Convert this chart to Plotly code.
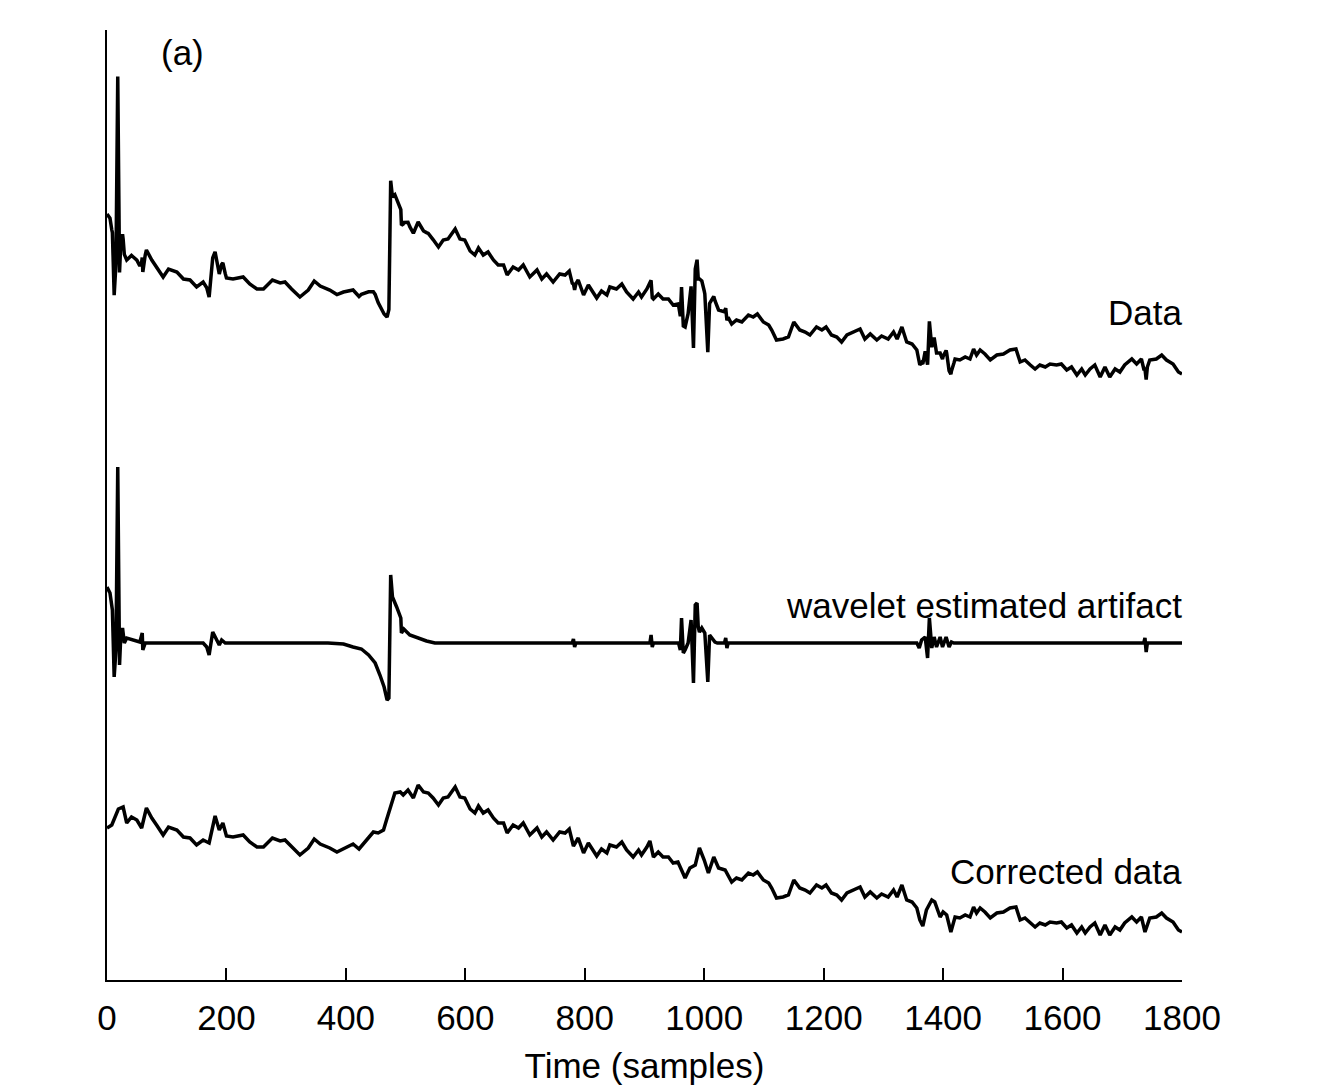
import numpy as np
import plotly.graph_objects as go

# ---- Corrected data (arbitrary units) ----
corr_x = [0, 8, 19, 27, 33, 41, 50, 58, 66, 75, 83, 94, 103, 117, 128, 139, 150, 161, 171, 181,
          188, 194, 200, 211, 228, 239, 251, 262, 277, 290, 298, 309, 323, 337, 347, 357, 373, 385,
          396, 412, 422, 435, 446, 454, 463, 468, 477, 482, 491, 496, 504, 513, 521, 530, 538, 546,
          555, 563, 571, 583, 591, 599, 608, 616, 622, 630, 638, 647, 655, 664, 670, 680, 689, 697,
          708, 720, 728, 736, 747, 758, 767, 774, 781, 789, 798, 806, 820, 828, 837, 842, 853, 862,
          870, 881, 890, 895, 904, 909, 915, 923, 931, 940, 948, 956, 962, 968, 976, 985, 992, 1000,
          1007, 1016, 1024, 1035, 1046, 1054, 1063, 1074, 1082, 1089, 1099, 1108, 1113, 1121, 1132,
          1141, 1150, 1160, 1169, 1177, 1188, 1197, 1204, 1213, 1222, 1230, 1239, 1250, 1261, 1269,
          1278, 1289, 1297, 1308, 1317, 1323, 1331, 1339, 1348, 1356, 1361, 1366, 1372, 1381, 1386,
          1395, 1400, 1406, 1413, 1420, 1428, 1437, 1445, 1451, 1456, 1462, 1470, 1479, 1490, 1501,
          1512, 1522, 1529, 1537, 1546, 1554, 1562, 1571, 1579, 1590, 1598, 1607, 1615, 1624, 1632,
          1638, 1646, 1654, 1663, 1671, 1679, 1688, 1696, 1704, 1716, 1724, 1732, 1738, 1746, 1757,
          1766, 1774, 1785, 1794, 1800]
corr_y = [152, 155, 171, 173, 157, 163, 160, 152, 172, 162, 155, 145, 153, 150, 143, 142, 135, 140, 137, 164,
          150, 157, 144, 143, 145, 138, 133, 133, 142, 139, 140, 133, 125, 132, 141, 136, 132, 128,
          131, 136, 131, 140, 148, 147, 150, 160, 177, 187, 188, 185, 190, 182, 195, 188, 187, 182,
          175, 182, 183, 193, 183, 182, 171, 167, 174, 167, 170, 162, 157, 157, 147, 155, 152, 157,
          145, 152, 143, 148, 140, 148, 147, 151, 134, 142, 127, 137, 124, 131, 127, 135, 133, 138,
          130, 123, 130, 125, 133, 139, 123, 128, 123, 123, 117, 118, 110, 102, 112, 115, 132, 120,
          107, 123, 112, 110, 98, 102, 100, 107, 105, 108, 100, 97, 92, 82, 83,
          85, 100, 92, 90, 87, 95, 92, 95, 87, 85, 80, 87, 90, 93, 83,
          88, 82, 86, 83, 90, 83, 95, 80, 78, 72, 60, 54, 70, 80, 78,
          63, 68, 65, 48, 63, 62, 65, 63, 73, 67, 72, 68, 62, 67, 68,
          72, 73, 60, 62, 57, 53, 57, 55, 58, 57, 58, 52, 55, 47, 53,
          47, 53, 57, 45, 55, 45, 53, 50, 57, 63, 58, 63, 48, 62, 63,
          67, 62, 58, 50, 48]

# ---- Wavelet estimated artifact (arbitrary units, zero baseline) ----
art_x = [0, 5, 9, 12, 15, 18, 21, 23, 26, 29, 33, 44, 55, 59, 60, 64, 161, 167, 171, 177, 182, 188,
         192, 198, 370, 396, 412, 426, 438, 449, 457, 464, 469, 472, 475, 478, 485, 492, 493, 497,
         507, 521, 535, 549, 779, 781, 783, 785, 909, 911, 913, 915, 957, 960, 962, 965, 968, 973,
         978, 982, 985, 988, 990, 992, 996, 1001, 1006, 1009, 1013, 1018, 1022, 1034, 1036, 1038,
         1040, 1356, 1360, 1364, 1370, 1374, 1377, 1381, 1385, 1389, 1395, 1399, 1405, 1410, 1414,
         1418, 1736, 1738, 1740, 1742, 1800]
art_y = [56, 50, 33, -34, -7, 176, -22, 6, 15, 0, 5, 3, 1, 10, -7, 0, 0, -4, -12, 11, 5, -2,
         3, 0, 0, -1, -4, -6, -12, -20, -32, -44, -57, -55, 68, 46, 36, 25, 10, 14,
         8, 5, 2, 0, 0, 4, -4, 0, 0, 8, -4, 0, 0, -7, 25, -10, -7, 0,
         23, -40, 38, 40, 16, 11, 15, 10, -39, 8, 5, 1, 0, 0, 5, -5,
         0, 0, -5, 3, 6, -15, 25, -5, 6, -4, 6, -4, 6, -4, 1,
         0, 0, 5, -9, 0, 0]

# vertical placement of the stacked traces
ART_OFFSET = 337
DATA_OFFSET = 558

# Data = corrected + artifact
data_x = np.union1d(corr_x, art_x)
data_y = (np.interp(data_x, corr_x, corr_y) + np.interp(data_x, art_x, art_y) + DATA_OFFSET)

x_ticks = [0, 200, 400, 600, 800, 1000, 1200, 1400, 1600, 1800]

FONT = "Liberation Sans, Arial, Helvetica, sans-serif"
FS = 35
LINE = dict(color="black", width=3.5)

fig = go.Figure()
fig.add_trace(go.Scatter(x=data_x, y=data_y, mode="lines", line=LINE, showlegend=False))
fig.add_trace(go.Scatter(x=art_x, y=np.array(art_y) + ART_OFFSET, mode="lines", line=LINE, showlegend=False))
fig.add_trace(go.Scatter(x=corr_x, y=corr_y, mode="lines", line=LINE, showlegend=False))

labels = [("Data", 668), ("wavelet estimated artifact", 375), ("Corrected data", 109)]
for txt, yv in labels:
    fig.add_annotation(x=1, xref="paper", y=yv, yref="y", text=txt, showarrow=False,
                       xanchor="right", yanchor="middle", xshift=2,
                       font=dict(size=FS, color="black", family=FONT))
fig.add_annotation(x=127, y=928, xref="x", yref="y", text="(a)", showarrow=False,
                   xanchor="center", yanchor="middle", font=dict(size=FS, color="black", family=FONT))

fig.update_layout(
    width=1320, height=1086,
    margin=dict(l=107, r=138, t=30, b=106),
    paper_bgcolor="white", plot_bgcolor="white",
    font=dict(family=FONT, size=FS, color="black"),
    xaxis=dict(range=[0, 1800], tickvals=x_ticks, ticktext=[str(v) for v in x_ticks],
               ticks="inside", ticklen=12, tickwidth=2, tickcolor="black",
               showline=True, linewidth=2, linecolor="black", showgrid=False, zeroline=False,
               ticklabelstandoff=6, automargin=False,
               tickfont=dict(size=FS, family=FONT, color="black"),
               title=dict(text="Time (samples)", font=dict(size=FS, family=FONT, color="black"), standoff=17)),
    yaxis=dict(range=[0, 950], showline=True, linewidth=2, linecolor="black", showgrid=False,
               zeroline=False, showticklabels=False, ticks="", automargin=False),
)

fig.write_html("out.html")
